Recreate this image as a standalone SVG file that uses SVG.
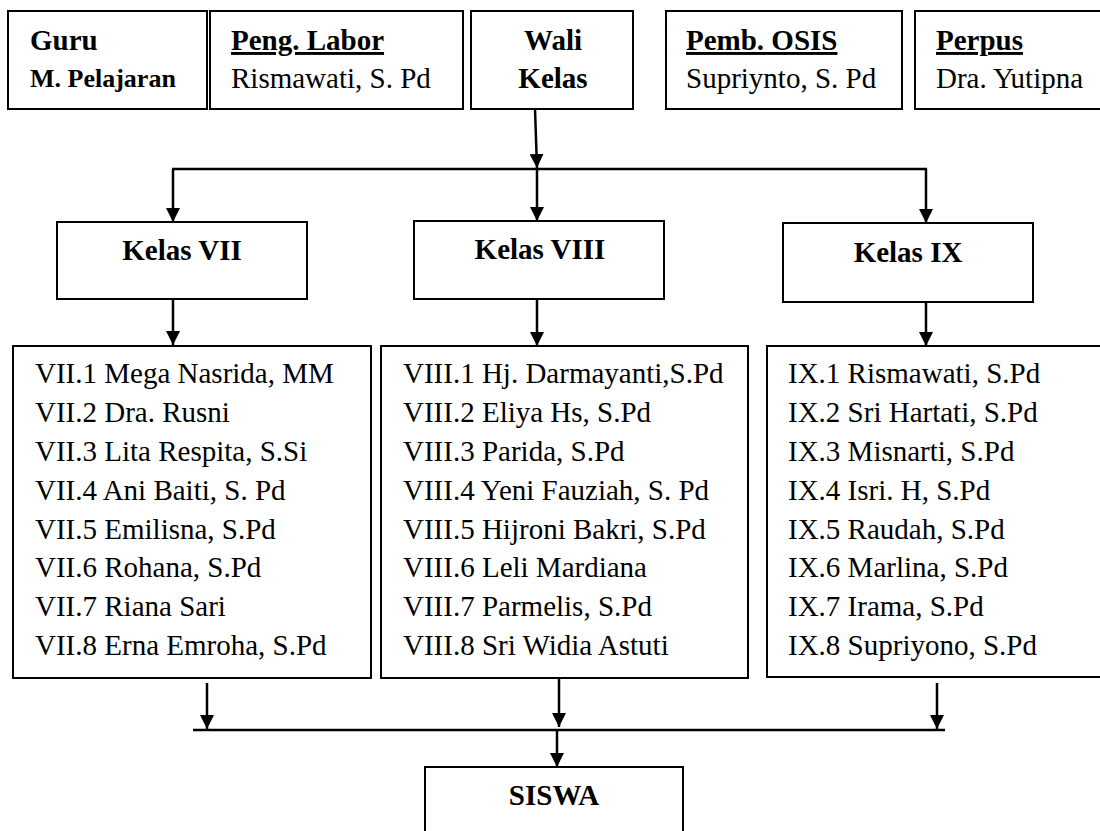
<svg xmlns="http://www.w3.org/2000/svg" width="1100" height="831" viewBox="0 0 1100 831">
<style>
.box{fill:#fff;stroke:#000;stroke-width:2}
.t{font-family:"Liberation Serif","Times New Roman",serif;font-size:29px;fill:#000}
.b{font-weight:bold}
.c{text-anchor:middle}
.u{text-decoration:underline}
.con{stroke:#000;stroke-width:2.5;fill:none}
</style>
<defs>
<marker id="ah" markerUnits="userSpaceOnUse" markerWidth="14" markerHeight="14" refX="14" refY="7" orient="auto">
<path d="M0,0 L14,7 L0,14 z" fill="#000"/>
</marker>
</defs>
<rect width="1100" height="831" fill="#fff"/>

<g id="connectors">
<line class="con" x1="535" y1="109" x2="537" y2="168" marker-end="url(#ah)"/>
<line class="con" x1="172" y1="169" x2="927" y2="169"/>
<line class="con" x1="173" y1="169" x2="173" y2="222" marker-end="url(#ah)"/>
<line class="con" x1="537" y1="169" x2="537" y2="221" marker-end="url(#ah)"/>
<line class="con" x1="926" y1="169" x2="926" y2="223" marker-end="url(#ah)"/>
<line class="con" x1="173" y1="299" x2="173" y2="345" marker-end="url(#ah)"/>
<line class="con" x1="537" y1="299" x2="537" y2="346" marker-end="url(#ah)"/>
<line class="con" x1="926" y1="302" x2="926" y2="346" marker-end="url(#ah)"/>
<line class="con" x1="207" y1="683" x2="207" y2="729" marker-end="url(#ah)"/>
<line class="con" x1="559" y1="678" x2="559" y2="727" marker-end="url(#ah)"/>
<line class="con" x1="937" y1="683" x2="937" y2="729" marker-end="url(#ah)"/>
<line class="con" x1="193" y1="730" x2="945" y2="730"/>
<line class="con" x1="557" y1="730" x2="557" y2="767" marker-end="url(#ah)"/>
</g>

<g id="guru">
<rect class="box" x="8" y="11" width="199" height="98"/>
<text class="t b" x="30" y="50">Guru</text>
<text class="t b" x="30" y="87" style="font-size:26px">M. Pelajaran</text>
</g>
<g id="labor">
<rect class="box" x="210" y="11" width="253" height="98"/>
<text class="t b u" x="231" y="50">Peng. Labor</text>
<text class="t" x="231" y="88">Rismawati, S. Pd</text>
</g>
<g id="wali">
<rect class="box" x="471" y="11" width="162" height="98"/>
<text class="t b c" x="553" y="50">Wali</text>
<text class="t b c" x="553" y="88">Kelas</text>
</g>
<g id="osis">
<rect class="box" x="666" y="11" width="236" height="98"/>
<text class="t b u" x="686" y="50">Pemb. OSIS</text>
<text class="t" x="686" y="88">Supriynto, S. Pd</text>
</g>
<g id="perpus">
<rect class="box" x="915" y="11" width="200" height="98"/>
<text class="t b u" x="936" y="50">Perpus</text>
<text class="t" x="936" y="88">Dra. Yutipna</text>
</g>

<g id="kelas7">
<rect class="box" x="57" y="222" width="250" height="77"/>
<text class="t b c" x="182" y="260">Kelas VII</text>
</g>
<g id="kelas8">
<rect class="box" x="414" y="221" width="250" height="78"/>
<text class="t b c" x="540" y="259">Kelas VIII</text>
</g>
<g id="kelas9">
<rect class="box" x="783" y="223" width="250" height="79"/>
<text class="t b c" x="908" y="262">Kelas IX</text>
</g>

<g id="list7">
<rect class="box" x="13" y="346" width="358" height="332"/>
<text class="t" x="35" y="383">VII.1 Mega Nasrida, MM</text>
<text class="t" x="35" y="422">VII.2 Dra. Rusni</text>
<text class="t" x="35" y="461">VII.3 Lita Respita, S.Si</text>
<text class="t" x="35" y="500">VII.4 Ani Baiti, S. Pd</text>
<text class="t" x="35" y="539">VII.5 Emilisna, S.Pd</text>
<text class="t" x="35" y="577">VII.6 Rohana, S.Pd</text>
<text class="t" x="35" y="616">VII.7 Riana Sari</text>
<text class="t" x="35" y="655">VII.8 Erna Emroha, S.Pd</text>
</g>
<g id="list8">
<rect class="box" x="381" y="346" width="367" height="332"/>
<text class="t" x="403" y="383">VIII.1 Hj. Darmayanti,S.Pd</text>
<text class="t" x="403" y="422">VIII.2 Eliya Hs, S.Pd</text>
<text class="t" x="403" y="461">VIII.3 Parida, S.Pd</text>
<text class="t" x="403" y="500">VIII.4 Yeni Fauziah, S. Pd</text>
<text class="t" x="403" y="539">VIII.5 Hijroni Bakri, S.Pd</text>
<text class="t" x="403" y="577">VIII.6 Leli Mardiana</text>
<text class="t" x="403" y="616">VIII.7 Parmelis, S.Pd</text>
<text class="t" x="403" y="655">VIII.8 Sri Widia Astuti</text>
</g>
<g id="list9">
<rect class="box" x="767" y="346" width="345" height="331"/>
<text class="t" x="788" y="383">IX.1 Rismawati, S.Pd</text>
<text class="t" x="788" y="422">IX.2 Sri Hartati, S.Pd</text>
<text class="t" x="788" y="461">IX.3 Misnarti, S.Pd</text>
<text class="t" x="788" y="500">IX.4 Isri. H, S.Pd</text>
<text class="t" x="788" y="539">IX.5 Raudah, S.Pd</text>
<text class="t" x="788" y="577">IX.6 Marlina, S.Pd</text>
<text class="t" x="788" y="616">IX.7 Irama, S.Pd</text>
<text class="t" x="788" y="655">IX.8 Supriyono, S.Pd</text>
</g>

<g id="siswa">
<rect class="box" x="425" y="767" width="258" height="80"/>
<text class="t b c" x="554" y="805">SISWA</text>
</g>
</svg>
